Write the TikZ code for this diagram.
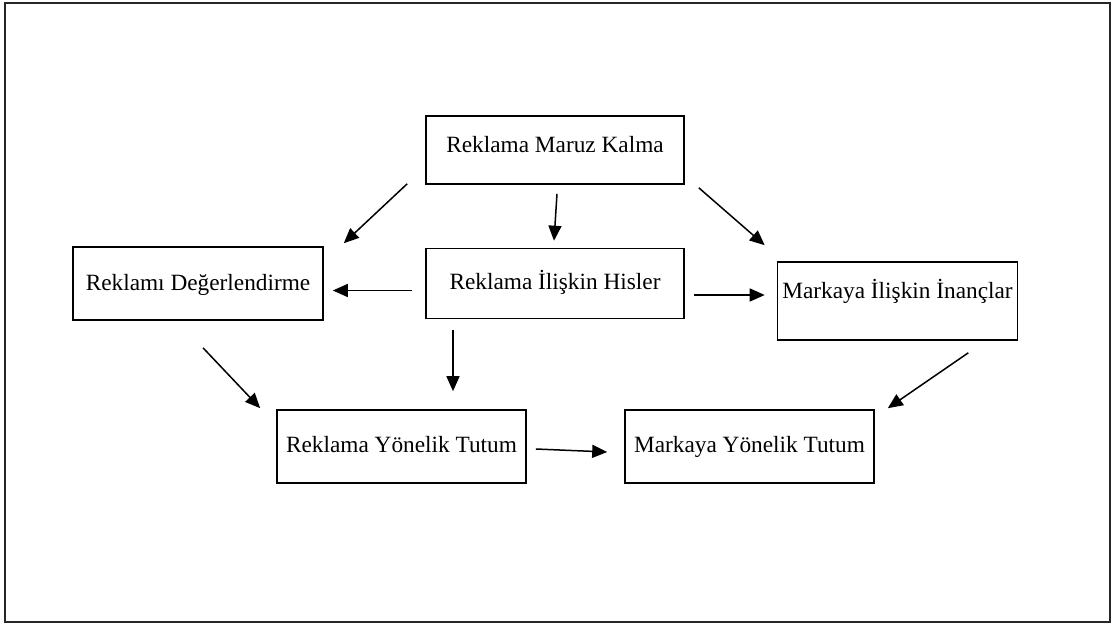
\documentclass[tikz,border=0pt]{standalone}
\usepackage{fontspec}
\setmainfont{Liberation Serif}
\usetikzlibrary{arrows.meta}
\begin{document}
\begin{tikzpicture}[x=1pt,y=-1pt,
  box/.style={draw=black, line width=1.6pt, inner sep=0pt,
    font=\fontsize{23.3}{28}\selectfont, text height=16pt, text depth=#1},
  box/.default=3pt,
  arr/.style={line width=1.5pt, -{Triangle[length=15pt,width=13pt]}},
  frame/.style={draw=black!85, line width=2.4pt}]
\useasboundingbox (0,0) rectangle (1112,626);
\draw[frame] (5,3) rectangle (1110,622);

\node[box=10pt, minimum width=258pt, minimum height=68pt] (A) at (555,150) {Reklama Maruz Kalma};
\node[box=2pt,  minimum width=250pt, minimum height=73pt] (B) at (198,283.5) {Reklamı Değerlendirme};
\node[box=5pt,  minimum width=258pt, minimum height=70pt] (C) at (555,283.5) {Reklama İlişkin Hisler};
\node[box=21pt, minimum width=240pt, minimum height=78pt] (D) at (897.5,301) {Markaya İlişkin İnançlar};
\node[box=5pt,  minimum width=249pt, minimum height=73pt] (E) at (401.5,446.5) {Reklama Yönelik Tutum};
\node[box=5pt,  minimum width=249pt, minimum height=73pt] (F) at (749.5,446.5) {Markaya Yönelik Tutum};

\draw[arr] ([shift={(-18,-1)}]A.south west) -- ([shift={(20,-3)}]B.north east);
\draw[arr] ([shift={(2,9)}]A.south) -- ([shift={(-1,-7)}]C.north);
\draw[arr] ([shift={(14,3)}]A.south east) -- ([shift={(-12,-16)}]D.north west);
\draw[arr] ([shift={(-13,7)}]C.west) -- ([shift={(9,7)}]B.east);
\draw[arr] ([shift={(9,11.5)}]C.east) -- ([shift={(-12,-6)}]D.west);
\draw[arr] ([shift={(-102,11)}]C.south) -- ([shift={(51.5,-18)}]E.north);
\draw[arr] ([shift={(5,27)}]B.south) -- ([shift={(-16,-1)}]E.north west);
\draw[arr] ([shift={(-50,12)}]D.south east) -- ([shift={(13,-1)}]F.north east);
\draw[arr] ([shift={(9,2.5)}]E.east) -- ([shift={(-17,5.5)}]F.west);
\end{tikzpicture}
\end{document}
